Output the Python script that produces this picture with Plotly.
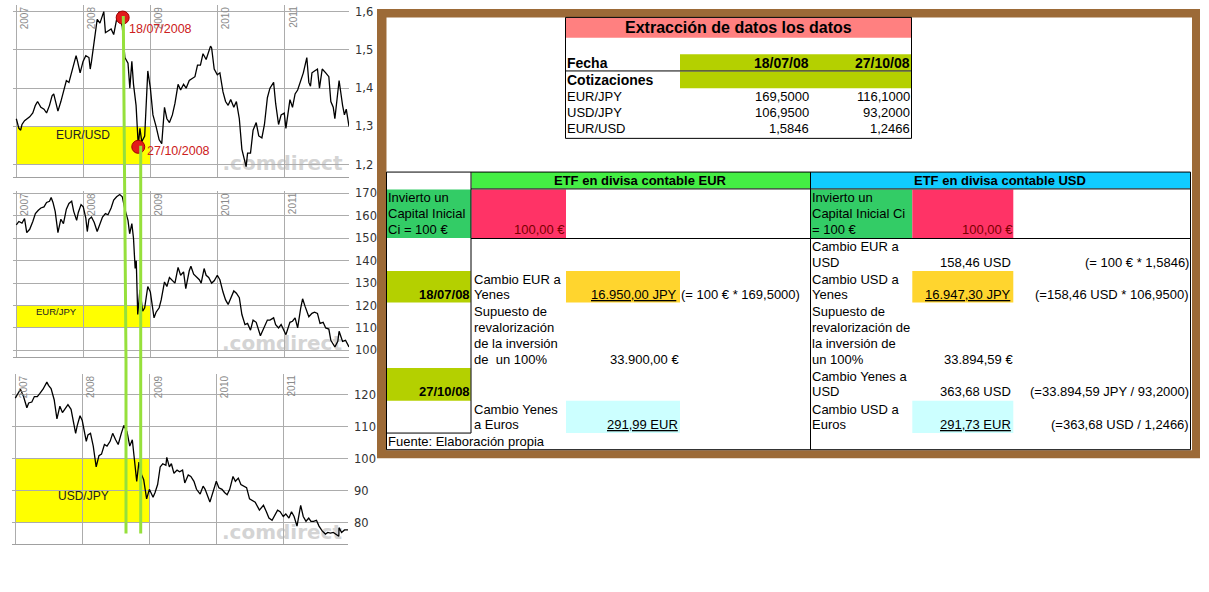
import plotly.graph_objects as go

W, H = 1209, 592
FONT = "Arial, Liberation Sans, sans-serif"

# ---------------- chart data ----------------
year_ticks = ["2007-01-01", "2008-01-01", "2009-01-01", "2010-01-01", "2011-01-01"]
year_labels = ["2007", "2008", "2009", "2010", "2011"]

eurusd_dates = [
    "2007-01-01", "2007-01-15", "2007-01-25", "2007-02-01", "2007-02-15", "2007-03-01", "2007-03-15",
    "2007-04-01", "2007-04-15", "2007-04-27", "2007-05-15", "2007-06-01", "2007-06-15", "2007-07-01",
    "2007-07-15", "2007-07-24", "2007-08-01", "2007-08-16", "2007-09-01", "2007-09-15", "2007-10-01",
    "2007-10-15", "2007-11-01", "2007-11-15", "2007-11-23", "2007-12-01", "2007-12-15", "2007-12-31",
    "2008-01-15", "2008-02-01", "2008-02-08", "2008-02-15", "2008-03-01", "2008-03-17", "2008-04-01",
    "2008-04-22", "2008-05-01", "2008-05-15", "2008-06-01", "2008-06-15", "2008-07-01", "2008-07-15",
    "2008-07-18", "2008-08-01", "2008-08-15", "2008-09-01", "2008-09-11", "2008-09-22", "2008-10-01",
    "2008-10-15", "2008-10-27", "2008-11-05", "2008-11-15", "2008-12-01", "2008-12-18", "2009-01-01",
    "2009-01-15", "2009-02-01", "2009-02-18", "2009-03-04", "2009-03-19", "2009-04-01", "2009-04-15",
    "2009-05-01", "2009-05-15", "2009-06-01", "2009-06-15", "2009-07-01", "2009-07-15", "2009-08-01",
    "2009-08-15", "2009-09-01", "2009-09-15", "2009-10-01", "2009-10-15", "2009-11-01", "2009-11-25",
    "2009-12-01", "2009-12-15", "2010-01-01", "2010-01-15", "2010-02-01", "2010-02-15", "2010-03-01",
    "2010-03-15", "2010-04-01", "2010-04-15", "2010-05-01", "2010-05-15", "2010-06-07", "2010-06-15",
    "2010-07-01", "2010-07-15", "2010-08-01", "2010-08-15", "2010-09-01", "2010-09-15", "2010-10-01",
    "2010-10-15", "2010-11-04", "2010-11-15", "2010-12-01", "2010-12-15", "2011-01-01", "2011-01-10",
    "2011-02-01", "2011-02-15", "2011-03-01", "2011-03-15", "2011-04-01", "2011-04-15", "2011-05-04",
    "2011-05-15", "2011-05-24", "2011-06-01", "2011-06-15", "2011-07-01", "2011-07-12", "2011-07-27",
    "2011-08-15", "2011-09-01", "2011-09-12", "2011-09-25", "2011-10-04", "2011-10-27", "2011-11-15",
    "2011-11-25", "2011-12-05", "2011-12-20"]
eurusd_vals = [
    1.320, 1.295, 1.290, 1.305, 1.315, 1.320, 1.325,
    1.335, 1.355, 1.365, 1.350, 1.345, 1.335, 1.355,
    1.380, 1.385, 1.370, 1.340, 1.365, 1.390, 1.420,
    1.415, 1.445, 1.465, 1.485, 1.470, 1.440, 1.470,
    1.485, 1.480, 1.450, 1.470, 1.520, 1.580, 1.570,
    1.600, 1.545, 1.550, 1.555, 1.540, 1.580, 1.600,
    1.585, 1.560, 1.480, 1.465, 1.400, 1.470, 1.410,
    1.355, 1.250, 1.295, 1.260, 1.275, 1.445, 1.400,
    1.330, 1.300, 1.265, 1.255, 1.350, 1.320, 1.310,
    1.330, 1.360, 1.410, 1.395, 1.410, 1.400, 1.420,
    1.425, 1.430, 1.460, 1.460, 1.490, 1.475, 1.510,
    1.505, 1.450, 1.435, 1.440, 1.390, 1.365, 1.355,
    1.370, 1.350, 1.365, 1.320, 1.240, 1.195, 1.230,
    1.230, 1.290, 1.310, 1.275, 1.270, 1.305, 1.375,
    1.400, 1.415, 1.360, 1.305, 1.330, 1.335, 1.295,
    1.370, 1.350, 1.385, 1.395, 1.420, 1.440, 1.480,
    1.415, 1.405, 1.440, 1.445, 1.450, 1.400, 1.450,
    1.440, 1.430, 1.365, 1.350, 1.320, 1.420, 1.355,
    1.330, 1.345, 1.300]

eurjpy_dates = [
    "2007-01-01", "2007-01-15", "2007-02-01", "2007-02-15", "2007-02-27", "2007-03-15", "2007-04-01",
    "2007-04-15", "2007-05-01", "2007-05-15", "2007-06-01", "2007-06-15", "2007-07-01", "2007-07-10",
    "2007-07-20", "2007-08-01", "2007-08-16", "2007-09-01", "2007-09-15", "2007-10-01", "2007-10-15",
    "2007-10-30", "2007-11-10", "2007-11-26", "2007-12-05", "2007-12-20", "2008-01-01", "2008-01-15",
    "2008-01-23", "2008-02-01", "2008-02-15", "2008-03-01", "2008-03-17", "2008-04-01", "2008-04-15",
    "2008-05-01", "2008-05-15", "2008-06-01", "2008-06-15", "2008-07-01", "2008-07-18", "2008-08-01",
    "2008-08-15", "2008-09-01", "2008-09-10", "2008-09-22", "2008-10-01", "2008-10-10", "2008-10-16",
    "2008-10-24", "2008-10-27", "2008-11-05", "2008-11-20", "2008-12-01", "2008-12-18", "2009-01-01",
    "2009-01-21", "2009-02-01", "2009-02-18", "2009-03-01", "2009-03-19", "2009-04-01", "2009-04-15",
    "2009-05-01", "2009-05-15", "2009-06-01", "2009-06-15", "2009-07-01", "2009-07-13", "2009-08-01",
    "2009-08-10", "2009-08-25", "2009-09-10", "2009-09-25", "2009-10-05", "2009-10-21", "2009-11-01",
    "2009-11-15", "2009-12-01", "2009-12-15", "2010-01-01", "2010-01-15", "2010-02-01", "2010-02-15",
    "2010-03-01", "2010-03-15", "2010-04-01", "2010-04-15", "2010-05-01", "2010-05-15", "2010-06-01",
    "2010-06-15", "2010-07-01", "2010-07-15", "2010-08-01", "2010-08-24", "2010-09-01", "2010-09-15",
    "2010-10-01", "2010-10-15", "2010-11-04", "2010-11-15", "2010-12-01", "2010-12-15", "2011-01-01",
    "2011-01-10", "2011-02-01", "2011-02-15", "2011-03-01", "2011-03-15", "2011-04-01", "2011-04-11",
    "2011-04-25", "2011-05-15", "2011-06-01", "2011-06-15", "2011-07-01", "2011-07-15", "2011-08-01",
    "2011-08-15", "2011-09-01", "2011-09-12", "2011-10-04", "2011-10-20", "2011-10-27", "2011-11-15",
    "2011-12-01", "2011-12-20"]
eurjpy_vals = [
    156.0, 157.5, 156.8, 158.8, 152.5, 154.0, 157.5,
    161.0, 162.5, 163.5, 164.0, 166.0, 166.5, 168.2,
    166.0, 162.0, 152.5, 158.5, 156.5, 163.0, 165.5,
    166.5, 162.0, 158.0, 161.5, 165.0, 164.0, 159.0,
    153.0, 158.5, 159.5, 157.0, 153.0, 156.5, 159.5,
    161.0, 160.5, 163.5, 167.0, 168.5, 169.5, 168.5,
    163.0, 158.0, 152.0, 156.5, 150.0, 136.5, 140.0,
    116.0, 118.5, 127.0, 117.5, 119.0, 128.5, 126.0,
    114.5, 117.0, 119.0, 122.5, 130.5, 128.5, 132.5,
    131.0, 130.0, 137.0, 133.5, 135.0, 127.5, 135.5,
    137.5, 134.0, 132.5, 131.5, 130.0, 136.5, 133.5,
    132.5, 130.0, 131.0, 133.5, 131.5, 126.0, 122.5,
    120.5, 123.0, 126.5, 125.5, 123.5, 116.0, 111.5,
    112.0, 109.0, 113.5, 112.5, 106.5, 108.0, 110.0,
    113.5, 113.5, 114.5, 111.5, 110.0, 111.5, 108.5,
    107.0, 112.5, 113.0, 114.5, 110.0, 119.0, 123.0,
    119.5, 115.0, 116.5, 117.0, 116.5, 112.0, 112.5,
    110.0, 109.5, 104.5, 101.5, 104.0, 108.5, 104.0,
    104.5, 101.5]

usdjpy_dates = [
    "2007-01-01", "2007-01-15", "2007-01-29", "2007-02-15", "2007-03-05", "2007-03-15", "2007-04-01",
    "2007-04-15", "2007-05-01", "2007-05-15", "2007-06-01", "2007-06-22", "2007-07-01", "2007-07-15",
    "2007-08-01", "2007-08-16", "2007-09-01", "2007-09-15", "2007-10-01", "2007-10-15", "2007-11-01",
    "2007-11-26", "2007-12-05", "2007-12-20", "2008-01-01", "2008-01-15", "2008-01-23", "2008-02-01",
    "2008-02-15", "2008-03-01", "2008-03-17", "2008-04-01", "2008-04-15", "2008-05-01", "2008-05-15",
    "2008-06-01", "2008-06-15", "2008-07-01", "2008-07-15", "2008-08-01", "2008-08-15", "2008-09-01",
    "2008-09-16", "2008-09-30", "2008-10-10", "2008-10-24", "2008-11-05", "2008-11-20", "2008-12-01",
    "2008-12-17", "2009-01-01", "2009-01-21", "2009-02-01", "2009-02-15", "2009-03-01", "2009-03-15",
    "2009-04-01", "2009-04-06", "2009-04-20", "2009-05-01", "2009-05-15", "2009-06-01", "2009-06-15",
    "2009-07-01", "2009-07-13", "2009-08-01", "2009-08-15", "2009-09-01", "2009-09-15", "2009-10-05",
    "2009-10-21", "2009-11-01", "2009-11-27", "2009-12-15", "2010-01-01", "2010-01-15", "2010-02-01",
    "2010-02-15", "2010-03-01", "2010-03-15", "2010-04-02", "2010-04-15", "2010-05-01", "2010-05-15",
    "2010-06-01", "2010-06-15", "2010-07-01", "2010-07-15", "2010-08-01", "2010-08-24", "2010-09-01",
    "2010-09-15", "2010-10-01", "2010-10-15", "2010-11-01", "2010-11-15", "2010-12-01", "2010-12-15",
    "2011-01-01", "2011-01-15", "2011-02-01", "2011-02-15", "2011-03-01", "2011-03-17", "2011-04-06",
    "2011-04-20", "2011-05-05", "2011-05-20", "2011-06-01", "2011-06-15", "2011-07-01", "2011-07-15",
    "2011-08-01", "2011-08-19", "2011-09-01", "2011-09-15", "2011-10-01", "2011-10-31", "2011-11-01",
    "2011-11-15", "2011-12-01", "2011-12-20"]
usdjpy_vals = [
    119.0, 120.5, 121.8, 119.5, 116.0, 117.5, 117.8,
    119.5, 119.5, 120.5, 121.8, 124.0, 123.0, 122.0,
    118.5, 112.5, 116.5, 114.5, 116.0, 117.0, 115.5,
    108.0, 110.5, 113.5, 112.0, 107.5, 105.5, 107.5,
    108.0, 104.0, 97.5, 101.0, 101.5, 104.5, 104.0,
    105.5, 108.0, 106.0, 104.5, 108.0, 110.5, 108.5,
    104.0, 106.0, 100.0, 93.0, 99.0, 95.0, 93.5,
    87.5, 90.5, 88.0, 89.5, 92.0, 97.5, 98.5,
    98.0, 100.5, 97.5, 98.5, 95.5, 96.5, 96.0,
    96.5, 92.5, 95.0, 94.5, 93.0, 90.5, 89.0,
    91.5, 90.5, 86.5, 89.5, 93.0, 91.0, 90.5,
    89.5, 88.8, 90.5, 94.5, 93.0, 94.0, 92.0,
    91.5, 91.0, 87.5, 87.0, 86.5, 84.0, 84.5,
    85.5, 83.5, 81.5, 80.8, 82.5, 84.0, 83.5,
    82.0, 82.8, 81.5, 83.5, 82.0, 79.0, 85.5,
    82.0, 80.5, 81.5, 80.5, 80.5, 80.8, 79.0,
    77.5, 76.5, 77.0, 76.8, 77.0, 75.8, 78.5,
    77.0, 77.8, 77.8]

# yellow highlight boxes (from 2007 to 2009) and their labels
box_start, box_end = "2007-01-01", "2009-01-01"
eurusd_box = [1.2, 1.3]
eurjpy_box = [110, 120]
usdjpy_box = [80, 100]
box_labels = ["EUR/USD", "EUR/JPY", "USD/JPY"]

# red markers on the EUR/USD chart (positions as drawn) and their labels
marker_dates = ["2008-08-03", "2008-10-27"]
marker_labels = ["18/07/2008", "27/10/2008"]

# ---------------- table data ----------------
tab_title = "Extracción de datos los datos"
tab_dates = ["18/07/08", "27/10/08"]
pairs = ["EUR/JPY", "USD/JPY", "EUR/USD"]
quotes_d1 = [169.5, 106.95, 1.5846]
quotes_d2 = [116.1, 93.2, 1.2466]
eur_amounts = [100.00, 16950.00, 33900.00, 291.99]
usd_amounts = [100.00, 158.46, 16947.30, 33894.59, 363.68, 291.73]


def es(v, d=2):
    s = f"{v:,.{d}f}"
    return s.replace(",", "#").replace(".", ",").replace("#", ".")


def X(p):
    return p / W


def Y(p):
    return 1 - p / H


GRID = "#acacac"
GREEN = "#96e03c"

fig = go.Figure()

series = [(eurusd_dates, eurusd_vals, "x", "y"),
          (eurjpy_dates, eurjpy_vals, "x2", "y2"),
          (usdjpy_dates, usdjpy_vals, "x3", "y3")]
for d, v, xa, ya in series:
    fig.add_trace(go.Scatter(x=d, y=v, mode="lines", line=dict(color="black", width=1.3),
                             xaxis=xa, yaxis=ya, hoverinfo="skip", showlegend=False))

fig.add_trace(go.Scatter(x=marker_dates, y=[quotes_d1[2], quotes_d2[2]], mode="markers",
                         marker=dict(size=13, color="#e21b1b", line=dict(color="#a00000", width=1)),
                         xaxis="x", yaxis="y", hoverinfo="skip", showlegend=False))

xbase = dict(type="date", range=["2006-12-14", "2011-12-20"], tickvals=year_ticks,
             showticklabels=False, ticks="", showgrid=True, gridcolor=GRID, gridwidth=1,
             zeroline=False, showline=True, linecolor="#a0a0a0", linewidth=1, fixedrange=True)
ybase = dict(side="right", showgrid=True, gridcolor=GRID, gridwidth=1, ticks="", zeroline=False,
             showline=False, fixedrange=True, ticklabelstandoff=5,
             tickfont=dict(family="DejaVu Sans, Verdana, sans-serif", size=11.5, color="#333333"))

fig.update_layout(
    width=W, height=H, margin=dict(l=0, r=0, t=0, b=0),
    paper_bgcolor="white", plot_bgcolor="rgba(0,0,0,0)",
    separators=",.", showlegend=False,
    xaxis=dict(xbase, domain=[X(13), X(349)], anchor="y"),
    xaxis2=dict(xbase, domain=[X(13), X(349)], anchor="y2"),
    xaxis3=dict(xbase, domain=[X(12), X(348)], anchor="y3"),
    yaxis=dict(ybase, domain=[Y(173), Y(0)], range=[1.1689, 1.6174],
               tickvals=[1.2, 1.3, 1.4, 1.5, 1.6], tickformat=".1f", anchor="x"),
    yaxis2=dict(ybase, domain=[Y(355), Y(188)], range=[97.04, 170.9],
                tickvals=[100, 110, 120, 130, 140, 150, 160, 170], anchor="x2"),
    yaxis3=dict(ybase, domain=[Y(544), Y(372)], range=[73.27, 126.6],
                tickvals=[80, 90, 100, 110, 120], anchor="x3"),
)

shapes = []
ann = []


def rect(x0, y0, x1, y1, fill, layer="above", line=None):
    shapes.append(dict(type="rect", xref="paper", yref="paper", x0=X(x0), x1=X(x1), y0=Y(y1), y1=Y(y0),
                       fillcolor=fill, line=line or dict(width=0), layer=layer))


def hline(y, x0, x1, color="black", width=1):
    shapes.append(dict(type="line", xref="paper", yref="paper", x0=X(x0), x1=X(x1), y0=Y(y), y1=Y(y),
                       line=dict(color=color, width=width)))


def vline(x, y0, y1, color="black", width=1):
    shapes.append(dict(type="line", xref="paper", yref="paper", x0=X(x), x1=X(x), y0=Y(y0), y1=Y(y1),
                       line=dict(color=color, width=width)))


def T(text, x, y, anchor="left", size=13, bold=False, color="#000000", under=False, family=FONT):
    if under:
        text = f"<u>{text}</u>"
    if bold:
        text = f"<b>{text}</b>"
    ann.append(dict(text=text, x=X(x), y=Y(y), xref="paper", yref="paper", xanchor=anchor,
                    yanchor="middle", showarrow=False, borderpad=0, borderwidth=0,
                    font=dict(family=family, size=size, color=color)))


# ---- yellow boxes on the charts (below lines) ----
for (ya, xa, rng) in [("y", "x", eurusd_box), ("y2", "x2", eurjpy_box), ("y3", "x3", usdjpy_box)]:
    shapes.append(dict(type="rect", xref=xa, yref=ya, x0=box_start, x1=box_end, y0=rng[0], y1=rng[1],
                       fillcolor="#ffff00", line=dict(width=0), layer="below"))

# ---- watermarks ----
for cx, cy in [(282.5, 158.5), (282, 340), (282, 530)]:
    shapes.append(dict(type="rect", xref="paper", yref="paper", x0=X(cx - 62), x1=X(cx + 62),
                       y0=Y(cy + 8), y1=Y(cy - 8), line=dict(width=0), fillcolor="rgba(0,0,0,0)",
                       layer="below",
                       label=dict(text="<b>.comdirect</b>", textposition="middle center",
                                  font=dict(family="DejaVu Sans, sans-serif", size=20, color="#d4d4d4"))))

# ---- year labels ----
for xa, ya in [("x", "y"), ("x2", "y2"), ("x3", "y3")]:
    for t, lab in zip(year_ticks, year_labels):
        ann.append(dict(text=lab, x=t, y=1, xref=xa, yref=f"{ya} domain", xanchor="left", yanchor="top",
                        xshift=2, textangle=-90, showarrow=False, borderpad=0,
                        font=dict(family=FONT, size=10, color="#8a8a8a")))

# ---- box labels ----
T(box_labels[0], 83, 131, anchor="center", size=12, color="#222222")
T(box_labels[1], 56, 309, anchor="center", size=9.5, color="#222222")
T(box_labels[2], 83, 495, anchor="center", size=12, color="#222222")

# ---- marker labels ----
T(marker_labels[0], 129, 24, size=12.5, color="#cc2020")
T(marker_labels[1], 146.5, 147, size=12.5, color="#cc2020")

# ---- green vertical lines ----
shapes.append(dict(type="path", xref="paper", yref="paper",
                   path=f"M {X(123.3)} {Y(11)} L {X(126)} {Y(360)} L {X(126)} {Y(533)}",
                   line=dict(color=GREEN, width=3)))
shapes.append(dict(type="line", xref="paper", yref="paper", x0=X(140.7), x1=X(140.7), y0=Y(142), y1=Y(533),
                   line=dict(color=GREEN, width=3)))

# ---- brown frame ----
rect(377, 4, 1200, 457, "#9c6a37", layer="below")
rect(386.5, 12.5, 1192, 449, "white", layer="below")

# ---- upper table ----
rect(566, 13, 911.5, 33, "#ff8080")
rect(680, 49.7, 911.5, 66, "#b4d000")
rect(680, 67, 911.5, 84, "#b4d000")
shapes.append(dict(type="rect", xref="paper", yref="paper", x0=X(565.5), x1=X(911.5), y0=Y(134.5), y1=Y(12.5),
                   line=dict(color="black", width=1), fillcolor="rgba(0,0,0,0)"))
hline(66.5, 565.5, 911.5)
T(tab_title, 738, 23, anchor="center", size=16, bold=True)
T("Fecha", 567, 58, size=14, bold=True)
T(tab_dates[0], 808.5, 58, anchor="right", size=14, bold=True)
T(tab_dates[1], 909.5, 58, anchor="right", size=14, bold=True)
T("Cotizaciones", 567, 75.5, size=14, bold=True)
for i, (p, a, b) in enumerate(zip(pairs, quotes_d1, quotes_d2)):
    yy = 92 + i * 16.5
    T(p, 567, yy)
    T(es(a, 4), 808.5, yy, anchor="right")
    T(es(b, 4), 909.5, yy, anchor="right")

# ---- lower table fills ----
rect(471.5, 168.5, 810, 185, "#44ee44")
rect(810.5, 168.5, 1190, 185, "#10ccff")
rect(386.5, 186, 471, 235, "#33cc66")
rect(471.5, 186, 566, 235, "#ff3366")
rect(810.5, 186, 912.3, 235, "#33cc66")
rect(912.3, 186, 1013.3, 235, "#ff3366")
rect(386.5, 268.3, 470.7, 300, "#b4d000")
rect(386.5, 366, 470.7, 399, "#b4d000")
rect(566, 268.3, 680, 300, "#ffd52e")
rect(912.3, 268.3, 1013.3, 300, "#ffd52e")
rect(566, 399, 680, 431.7, "#ccffff")
rect(912.3, 399, 1013.3, 431.7, "#ccffff")

# ---- lower table lines ----
shapes.append(dict(type="rect", xref="paper", yref="paper", x0=X(386.5), x1=X(1190.5), y0=Y(448.5), y1=Y(168.5),
                   line=dict(color="black", width=1), fillcolor="rgba(0,0,0,0)"))
vline(471, 168.5, 431.7)
vline(810.5, 168.5, 448.5)
hline(185.5, 471, 1190.5)
hline(235.5, 471, 1190.5)
hline(431.7, 386.5, 471)

# ---- lower table texts ----
T("ETF en divisa contable EUR", 640.5, 177, anchor="center", bold=True)
T("ETF en divisa contable USD", 1000, 177, anchor="center", bold=True)

for i, s in enumerate(["Invierto un", "Capital Inicial", "Ci = 100 €"]):
    T(s, 388, 194.3 + i * 16.2)
T(es(eur_amounts[0]) + " €", 564.5, 226.7, anchor="right", color="#7a0000")
T(tab_dates[0], 469.5, 292.3, anchor="right", bold=True)
T(tab_dates[1], 469.5, 390, anchor="right", bold=True)

T("Cambio EUR a", 473.5, 276.7)
T("Yenes", 473.5, 292.3)
T(es(eur_amounts[1]) + " JPY", 677, 292.3, anchor="right", under=True)
T(f"(= 100 € * {es(quotes_d1[0], 4)})", 681, 292.3)
for i, s in enumerate(["Supuesto de", "revalorización", "de la inversión", "de\u00a0 un 100%"]):
    T(s, 473.5, 309.3 + i * 16)
T(es(eur_amounts[2]) + " €", 678.5, 357.3, anchor="right")
T("Cambio Yenes", 473.5, 407.7)
T("a Euros", 473.5, 423.3)
T(es(eur_amounts[3]) + " EUR", 677.5, 423.3, anchor="right", under=True)
T("Fuente: Elaboración propia", 388, 440)

for i, s in enumerate(["Invierto un", "Capital Inicial Ci", "= 100 €"]):
    T(s, 812, 194.3 + i * 16.2)
T(es(usd_amounts[0]) + " €", 1012.7, 226.7, anchor="right", color="#7a0000")
T("Cambio EUR a", 812, 243.3)
T("USD", 812, 259.3)
T(es(usd_amounts[1]) + " USD", 1010.7, 259.3, anchor="right")
T(f"(= 100 € * {es(quotes_d1[2], 4)})", 1188.5, 259.3, anchor="right")
T("Cambio USD a", 812, 276.7)
T("Yenes", 812, 292.3)
T(es(usd_amounts[2]) + " JPY", 1010.7, 292.3, anchor="right", under=True)
T(f"(={es(usd_amounts[1])} USD * {es(quotes_d1[1], 4)})", 1188.5, 292.3, anchor="right")
for i, s in enumerate(["Supuesto de", "revalorización de", "la inversión de", "un 100%"]):
    T(s, 812, 309.3 + i * 16)
T(es(usd_amounts[3]) + " €", 1013.3, 357.3, anchor="right")
T("Cambio Yenes a", 812, 374.3)
T("USD", 812, 390)
T(es(usd_amounts[4]) + " USD", 1010.7, 390, anchor="right")
T(f"(={es(usd_amounts[3])} JPY / {es(quotes_d2[1], 4)})", 1188.5, 390, anchor="right")
T("Cambio USD a", 812, 407.7)
T("Euros", 812, 423.3)
T(es(usd_amounts[5]) + " EUR", 1010.7, 423.3, anchor="right", under=True)
T(f"(={es(usd_amounts[4])} USD / {es(quotes_d2[2], 4)})", 1188.5, 423.3, anchor="right")

fig.update_layout(shapes=shapes, annotations=ann)
fig.write_html("out.html", config={"displayModeBar": False})
